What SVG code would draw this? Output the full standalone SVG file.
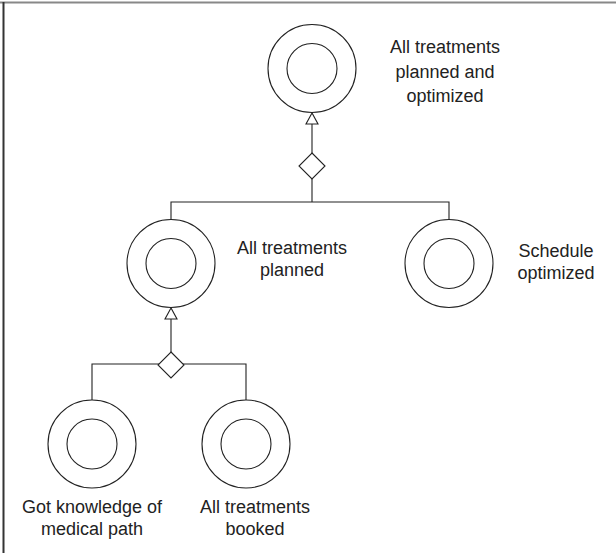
<svg xmlns="http://www.w3.org/2000/svg" width="616" height="553" viewBox="0 0 616 553">
  <style>
    .outer, .inner { fill: #fff; stroke: #222; stroke-width: 1.1; }
    .edge { fill: none; stroke: #222; stroke-width: 1.1; }
    .and { fill: #fff; stroke: #222; stroke-width: 1.1; }
    .head { fill: #fff; stroke: #222; stroke-width: 1.1; }
    text { font-family: "Liberation Sans", Arial, sans-serif; font-size: 18px; fill: #222; text-anchor: middle; }
  </style>
  <rect width="616" height="553" fill="#fff"/>
  <!-- frame edges -->
  <line x1="0" y1="2.5" x2="616" y2="2.5" stroke="#888" stroke-width="2"/>
  <line x1="3.5" y1="2" x2="3.5" y2="553" stroke="#333" stroke-width="2"/>

  <g id="connectors">
    <!-- upper refinement -->
    <path class="edge" d="M312 124 V153 M312 179 V202 M171 219 V202 H449 V219"/>
    <polygon class="head" points="312,113 306,124 318,124"/>
    <polygon class="and" points="312,153 325,166 312,179 299,166"/>
    <!-- lower refinement -->
    <path class="edge" d="M171 318 V352 M92 400 V364 H246 V400"/>
    <polygon class="head" points="171,308 165,319 177,319"/>
    <polygon class="and" points="171,352 184,365 171,378 158,365"/>
  </g>

  <g id="goal-top">
    <circle class="outer" cx="312" cy="68.5" r="44"/>
    <circle class="inner" cx="312" cy="68.5" r="25"/>
    <text x="445" y="53">All treatments</text>
    <text x="445" y="77.5">planned and</text>
    <text x="445" y="102">optimized</text>
  </g>

  <g id="goal-planned">
    <circle class="outer" cx="171" cy="263.5" r="44"/>
    <circle class="inner" cx="171" cy="263.5" r="25"/>
    <text x="292" y="253.5">All treatments</text>
    <text x="292" y="276">planned</text>
  </g>

  <g id="goal-schedule">
    <circle class="outer" cx="449" cy="263.5" r="44"/>
    <circle class="inner" cx="449" cy="263.5" r="25"/>
    <text x="556" y="256.5">Schedule</text>
    <text x="556" y="279">optimized</text>
  </g>

  <g id="goal-knowledge">
    <circle class="outer" cx="92" cy="444" r="44"/>
    <circle class="inner" cx="92" cy="444" r="25"/>
    <text x="92" y="513">Got knowledge of</text>
    <text x="92" y="535">medical path</text>
  </g>

  <g id="goal-booked">
    <circle class="outer" cx="246" cy="444" r="44"/>
    <circle class="inner" cx="246" cy="444" r="25"/>
    <text x="255" y="513">All treatments</text>
    <text x="255" y="535">booked</text>
  </g>
</svg>
